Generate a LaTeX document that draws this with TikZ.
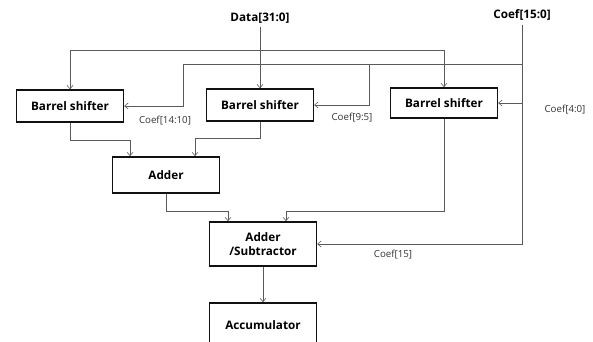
\documentclass[tikz,border=0pt]{standalone}
\usepackage{fontspec}
\setmainfont{Open Sans}
\usepackage{xcolor}
\definecolor{WireGray}{HTML}{5A5A5A}
\definecolor{BoxBlack}{HTML}{111111}
\usepackage{tikz}
\usetikzlibrary{arrows.meta,calc,positioning}

\begin{document}
\begin{tikzpicture}[
    x=0.03cm,y=-0.03cm,
    block/.style={draw=BoxBlack,line width=1.4pt,minimum width=3.2cm,minimum height=0.95cm,
      font=\fontsize{10}{11.5}\selectfont\bfseries,align=center,inner sep=1pt},
    wire/.style={draw=WireGray,line width=0.5pt},
    arr/.style={wire,-{Straight Barb[length=3pt,width=5pt]}},
    bus/.style={font=\fontsize{10}{11}\selectfont\bfseries},
    tag/.style={font=\fontsize{8.3}{9}\selectfont,text=black!80}
  ]
    \clip (0,0) rectangle (593,342);
    % blocks
    \node[block] (bs1) at (70,106) {Barrel shifter};
    \node[block] (bs2) at (260,105) {Barrel shifter};
    \node[block,minimum height=0.9cm] (bs3) at (444,103) {Barrel shifter};
    \node[block,minimum height=1.08cm] (adder) at (166,175) {Adder};
    \node[block,minimum height=1.32cm] (as) at (263,244) {Adder\\/Subtractor};
    \node[block,minimum height=1.32cm] (acc) at (263,325) {Accumulator};
    % inputs
    \node[bus] (data) at (260,18) {Data[31:0]};
    \node[bus] (coef) at (522,15) {Coef[15:0]};
    \coordinate (j1) at (260,50);
    \coordinate (c1) at (522,64);
    \coordinate (k1) at (183,64);
    \coordinate (k2) at (369,64);
    % data bus
    \draw[arr] (data.south) -- (bs2.north);
    \draw[arr] (j1) -| (bs1.north);
    \draw[arr] (j1) -| (bs3.north);
    % coef bus
    \draw[arr] (coef.south) |- (as.east);
    \draw[wire] (c1) -- (k1);
    \draw[arr] (k1) |- (bs1.east);
    \draw[arr] (k2) |- (bs2.east);
    \draw[arr] (bs3.east -| c1) -- (bs3.east);
    % datapath
    \draw[arr] (bs1.south) -- ++(0,18) -| ($(adder.north)+(-36,0)$);
    \draw[arr] (bs2.south) -- ++(0,17) -| ($(adder.north)+(29,0)$);
    \draw[arr] (adder.south) -- ++(0,17) -| ($(as.north)+(-35,0)$);
    \draw[arr] (bs3.south) -- ++(0,92) -| ($(as.north)+(23,0)$);
    \draw[arr] (as.south) -- (acc.north);
    % labels
    \node[tag] (t1) at (165,121) {Coef[14:10]};
    \node[tag] (t2) at (352,118) {Coef[9:5]};
    \node[tag] (t3) at (565,110) {Coef[4:0]};
    \node[tag] (t4) at (393,255) {Coef[15]};
\end{tikzpicture}
\end{document}
